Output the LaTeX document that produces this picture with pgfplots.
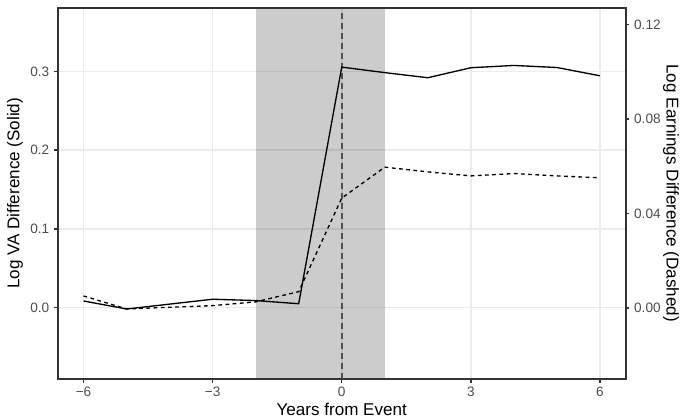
\documentclass[border=0pt]{standalone}
\usepackage{fontspec}
\setmainfont{Liberation Sans}
\usepackage{pgfplots}
\pgfplotsset{compat=1.18}
\definecolor{gridc}{HTML}{EBEBEB}
\definecolor{tickc}{HTML}{4D4D4D}
\definecolor{framec}{HTML}{333333}
\definecolor{vlinec}{HTML}{505050}
\pgfplotstableread{
x y
-6 0.0085
-5 -0.0017
-4 0.0045
-3 0.0107
-2 0.009
-1 0.005
0 0.3055
1 0.2985
2 0.292
3 0.3047
4 0.3076
5 0.305
6 0.2945
}\solid
\pgfplotstableread{
x y
-6 0.0052
-5 -0.0003
-4 0.0004
-3 0.0011
-2 0.0027
-1 0.007
0 0.0466
1 0.0597
2 0.0577
3 0.056
4 0.057
5 0.056
6 0.0552
}\dashed
\pgfplotsset{
  base/.style={
    at={(43.3pt,30.75pt)}, anchor=south west,
    scale only axis, width=426pt, height=278.5pt,
    xmin=-6.6, xmax=6.6,
    tick align=outside,
    major tick length=2.8pt,
    every tick/.style={framec, line width=1.1pt},
    tick label style={font=\fontsize{10.2}{12}\selectfont, text=tickc},
    label style={font=\fontsize{12.8}{15}\selectfont},
  }
}
\begin{document}
\begin{tikzpicture}[x=1pt,y=1pt]
\useasboundingbox (0,0) rectangle (511.5,315);
\begin{axis}[base,
  ymin=-0.0906, ymax=0.381,
  axis line style={draw=none},
  xtick={-6,-3,0,3,6},
  xticklabels={−6,−3,0,3,6},
  ytick={0,0.1,0.2,0.3},
  yticklabels={0.0,0.1,0.2,0.3},
  xtick pos=bottom, ytick pos=left,
  grid=major,
  major grid style={gridc, line width=1.2pt},
  xlabel={Years from Event},
  ylabel={Log VA Difference (Solid)},
  xlabel style={at={(axis description cs:0.5,-0.081)}, anchor=center},
  ylabel style={at={(axis description cs:-0.0752,0.5)}, anchor=center},
]
\addplot[fill=black, fill opacity=0.2, draw=none] coordinates {(-2,-0.0906) (1,-0.0906) (1,0.381) (-2,0.381)} -- cycle;
\addplot[vlinec, line width=1.4pt, dash pattern=on 4.2pt off 3.3pt] coordinates {(0,-0.0906) (0,0.381)};
\addplot[black, line width=1pt] table[x=x,y=y] {\solid};
\end{axis}
\begin{axis}[base,
  ymin=-0.02995, ymax=0.1272,
  axis line style={draw=none},
  clip=false,
  xtick=\empty,
  ytick pos=right,
  ytick={0,0.04,0.08,0.12},
  yticklabels={0.00,0.04,0.08,0.12},
  ylabel={Log Earnings Difference (Dashed)},
  ylabel style={at={(axis description cs:1.0797,0.5)}, anchor=center, rotate=180},
]
\addplot[black, line width=1pt, dash pattern=on 2.8pt off 2.6pt] table[x=x,y=y] {\dashed};
\draw[framec, line width=1.5pt] (rel axis cs:0,0) rectangle (rel axis cs:1,1);
\end{axis}
\end{tikzpicture}
\end{document}
